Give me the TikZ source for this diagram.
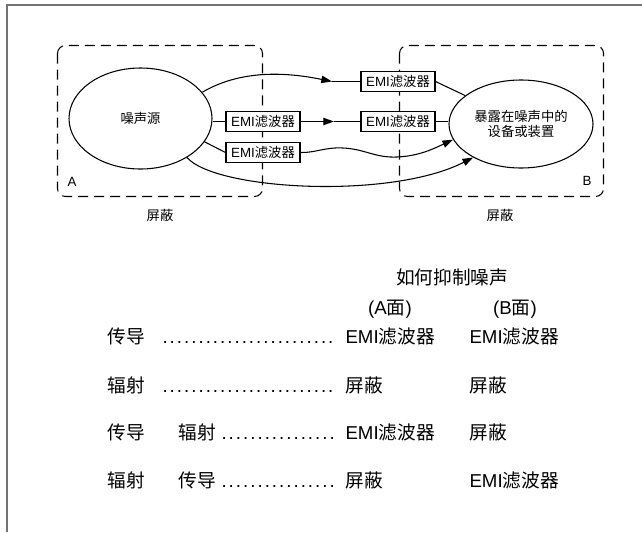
\documentclass[tikz,border=0pt]{standalone}
\usepackage{fontspec}
\setmainfont{Noto Sans CJK SC}
\newfontfamily\lat{Liberation Sans}
\usetikzlibrary{shapes.geometric,arrows.meta}
\newcommand\dotrun[1]{\makebox[#1][l]{\lat\leaders\hbox to 5.4pt{\hss.\hss}\hfill}}
\newcommand\emi{{\lat EMI}滤波器}
\begin{document}
\begin{tikzpicture}[x=0.75pt,y=-0.75pt,line width=0.8pt,
  shieldbox/.style={draw,dash pattern=on 7.5pt off 4.5pt,rounded corners=6pt},
  filt/.style={draw,fill=white,minimum width=55.5pt,minimum height=15pt,inner sep=0pt,font=\fontsize{10}{12}\selectfont},
  ell/.style={draw,fill=white,ellipse,inner sep=0pt,font=\fontsize{10}{11.5}\selectfont,align=center},
  arr/.style={-{Triangle[length=8pt,width=5.5pt]}},
  lbl/.style={font=\fontsize{10}{12}\selectfont,inner sep=0pt},
  tab/.style={font=\fontsize{14}{17}\selectfont,anchor=base west,inner sep=0pt}]
\useasboundingbox (0,0) rectangle (642,532);
\draw[black!55,line width=1.6pt] (7,532) -- (7,5) -- (642,5);
% shields
\draw[shieldbox] (57.5,45.5) rectangle (262.5,196.5);
\draw[shieldbox] (399.5,45.5) rectangle (603.5,196.5);
% nodes
\node[ell,minimum width=107.25pt,minimum height=75.75pt] (L) at (140.5,118.5) {噪声源};
\node[ell,minimum width=108pt,minimum height=66pt] (R) at (521,124) {暴露在噪声中的\\设备或装置};
\node[filt] (f1) at (398,81.5) {\emi};
\node[filt] (f2) at (263,121.5) {\emi};
\node[filt] (f3) at (398,121.5) {\emi};
\node[filt] (f4) at (263,152.5) {\emi};
\node[lbl] (la) at (72,182) {\lat A};
\node[lbl] (lb) at (587,181) {\lat B};
\node[lbl] (s1) at (160,215) {屏蔽};
\node[lbl] (s2) at (500,215) {屏蔽};
% connectors
\coordinate (t1) at (332,81.5);
\draw[arr] (L.23) .. controls (245,67) and (295,74) .. (t1);
\draw (t1) -- (f1.west);
\draw (f1.east) -- (R.153);
\coordinate (t2) at (334,121.5);
\draw (L.east |- f2.west) -- (f2.west);
\draw[arr] (f2.east) -- (t2);
\draw (t2) -- (f3.west);
\draw (f3.east) -- (f3.east -| R.west);
\draw (L.-20) -- (f4.west);
\draw[arr] (f4.east) .. controls (315,153) and (325,147) .. (343,148)
  .. controls (365,149) and (375,158) .. (397,157)
  .. controls (420,156) and (435,148) .. (R.193);
\draw[arr] (L.-40) .. controls (215,190) and (390,200) .. (R.215);
% table
\node[tab,anchor=base] (h) at (452,284) {如何抑制噪声};
\node[tab,anchor=base] (ha) at (390,314) {{\lat(A}面{\lat)}};
\node[tab,anchor=base] (hb) at (515,314) {{\lat(B}面{\lat)}};
\node[tab] (r1a) at (107,343) {传导};
\node[tab] (r1d) at (161,343) {\dotrun{132pt}};
\node[tab] (r1x) at (345,343) {\emi};
\node[tab] (r1y) at (469,343) {\emi};
\node[tab] (r2a) at (107,392) {辐射};
\node[tab] (r2d) at (161,392) {\dotrun{132pt}};
\node[tab] (r2x) at (345,392) {屏蔽};
\node[tab] (r2y) at (469,392) {屏蔽};
\node[tab] (r3a) at (107,439) {传导};
\node[tab] (r3b) at (178,439) {辐射};
\node[tab] (r3d) at (220,439) {\dotrun{88pt}};
\node[tab] (r3x) at (345,439) {\emi};
\node[tab] (r3y) at (469,439) {屏蔽};
\node[tab] (r4a) at (107,487) {辐射};
\node[tab] (r4b) at (178,487) {传导};
\node[tab] (r4d) at (220,487) {\dotrun{88pt}};
\node[tab] (r4x) at (345,487) {屏蔽};
\node[tab] (r4y) at (469,487) {\emi};
\end{tikzpicture}
\end{document}
